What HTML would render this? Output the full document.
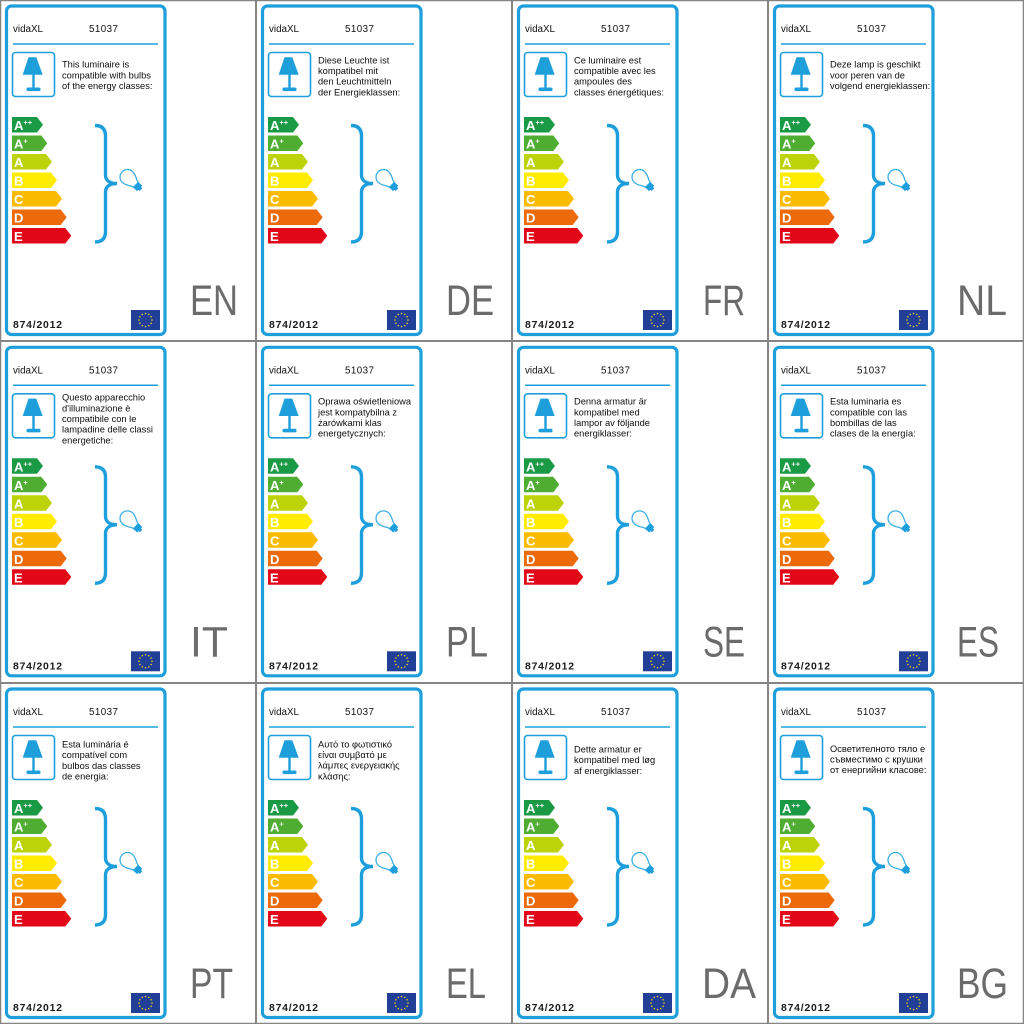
<!DOCTYPE html>
<html><head><meta charset="utf-8"><style>
html,body{margin:0;padding:0;background:#fff;width:1024px;height:1024px;overflow:hidden}
svg{display:block}
.h{font-family:"Liberation Sans",sans-serif;font-size:9.8px;fill:#111}
.d{font-family:"Liberation Sans",sans-serif;font-size:9.3px;fill:#0d0d0d}
.b{font-family:"Liberation Sans",sans-serif;font-size:13px;font-weight:bold;fill:#fff}
.s{font-size:7.5px}
.r{font-family:"Liberation Sans",sans-serif;font-size:10.4px;font-weight:bold;fill:#1a1a1a}
.lc{font-family:"Liberation Sans",sans-serif;font-size:43px;fill:#6b6b6b}
</style></head><body>
<svg width="1024" height="1024" viewBox="0 0 1024 1024" xmlns="http://www.w3.org/2000/svg">
<defs>
<g id="shp">
  <rect x="6.5" y="6" width="158.5" height="328.5" rx="5" fill="#fff" stroke="#1e9fdc" stroke-width="3.2"/>
  <line x1="13" y1="44" x2="158" y2="44" stroke="#1e9fdc" stroke-width="1.5"/>
  <rect x="12.5" y="52.5" width="42" height="44" rx="3" fill="#fff" stroke="#1e9fdc" stroke-width="1.6"/>
  <polygon points="28.5,57.3 36.3,57.3 42.7,74.7 22.7,74.7" fill="#1e9fdc"/>
  <rect x="32.3" y="74" width="2.4" height="14" fill="#1e9fdc"/>
  <rect x="26.5" y="87.5" width="14" height="3.6" rx="1.5" fill="#1e9fdc"/>
  <path d="M12,117 H37 L43,124.75 L37,132.5 H12 Z" fill="#1b9a45"/>
  <path d="M12,135.5 H41.3 L47.3,143.25 L41.3,151 H12 Z" fill="#4fae32"/>
  <path d="M12,154 H46 L52,161.75 L46,169.5 H12 Z" fill="#bcd30a"/>
  <path d="M12,172.5 H51 L57,180.25 L51,188 H12 Z" fill="#ffec00"/>
  <path d="M12,191 H56 L62,198.75 L56,206.5 H12 Z" fill="#fbbb00"/>
  <path d="M12,209.5 H60.7 L66.7,217.25 L60.7,225 H12 Z" fill="#ec6a0a"/>
  <path d="M12,228 H65.3 L71.3,235.75 L65.3,243.5 H12 Z" fill="#e3071a"/>
  <path d="M95,125.5 C102,125.5 105.5,129 105.5,136 L105.5,175 C105.5,180.5 110,183.5 117,183.5 C110,183.5 105.5,186.5 105.5,192 L105.5,231.5 C105.5,238.5 102,242 95,242" fill="none" stroke="#1e9fdc" stroke-width="3.4"/>
  <g transform="translate(127.5,177) rotate(-47) scale(1.15)">
    <path d="M-3,10 C-3,7 -6.5,5 -6.5,0 A6.5,6.5 0 1 1 6.5,0 C6.5,5 3,7 3,10 Z" fill="#fff" stroke="#3aaee2" stroke-width="1.1"/>
    <rect x="-3.3" y="10" width="6.6" height="4.5" fill="#1e9fdc"/>
    <rect x="-1.6" y="14.3" width="3.2" height="1.8" fill="#1e9fdc"/>
  </g>
  <rect x="131" y="310" width="29" height="20" fill="#223f98"/>
  <g fill="#ffdd00">
    <circle cx="145.5" cy="313.5" r="0.75"/><circle cx="148.75" cy="314.37" r="0.75"/><circle cx="151.13" cy="316.75" r="0.75"/>
    <circle cx="152" cy="320" r="0.75"/><circle cx="151.13" cy="323.25" r="0.75"/><circle cx="148.75" cy="325.63" r="0.75"/>
    <circle cx="145.5" cy="326.5" r="0.75"/><circle cx="142.25" cy="325.63" r="0.75"/><circle cx="139.87" cy="323.25" r="0.75"/>
    <circle cx="139" cy="320" r="0.75"/><circle cx="139.87" cy="316.75" r="0.75"/><circle cx="142.25" cy="314.37" r="0.75"/>
  </g>
</g>
</defs>

<!-- grid -->
<rect x="0.5" y="0.5" width="1023" height="1023" fill="none" stroke="#858585" stroke-width="1.5"/>
<g stroke="#858585" stroke-width="2">
  <line x1="256" y1="0" x2="256" y2="1024"/>
  <line x1="512" y1="0" x2="512" y2="1024"/>
  <line x1="768" y1="0" x2="768" y2="1024"/>
  <line x1="0" y1="341" x2="1024" y2="341"/>
  <line x1="0" y1="683" x2="1024" y2="683"/>
</g>

<!-- EN -->
<g transform="translate(0,0)">
<use href="#shp"/>
<text class="h" x="13" y="32">vidaXL</text><text class="h" x="89" y="32" textLength="29">51037</text>
<text class="d"><tspan x="62" y="67.7">This luminaire is</tspan><tspan x="62" y="78.4">compatible with bulbs</tspan><tspan x="62" y="89.1">of the energy classes:</tspan></text>
<text class="b" x="14" y="130">A<tspan class="s" dy="-5">++</tspan></text>
<text class="b" x="14" y="148.5">A<tspan class="s" dy="-5">+</tspan></text>
<text class="b" x="14" y="167">A</text><text class="b" x="14" y="185.5">B</text><text class="b" x="14" y="204">C</text><text class="b" x="14" y="222.5">D</text><text class="b" x="14" y="241">E</text>
<text class="r" x="13" y="328" textLength="49">874/2012</text>
<text class="lc" x="190" y="315" textLength="48" lengthAdjust="spacingAndGlyphs">EN</text>
</g>

<!-- DE -->
<g transform="translate(256,0)">
<use href="#shp"/>
<text class="h" x="13" y="32">vidaXL</text><text class="h" x="89" y="32" textLength="29">51037</text>
<text class="d"><tspan x="62" y="63.3">Diese Leuchte ist</tspan><tspan x="62" y="74">kompatibel mit</tspan><tspan x="62" y="84.7">den Leuchtmitteln</tspan><tspan x="62" y="95.4">der Energieklassen:</tspan></text>
<text class="b" x="14" y="130">A<tspan class="s" dy="-5">++</tspan></text>
<text class="b" x="14" y="148.5">A<tspan class="s" dy="-5">+</tspan></text>
<text class="b" x="14" y="167">A</text><text class="b" x="14" y="185.5">B</text><text class="b" x="14" y="204">C</text><text class="b" x="14" y="222.5">D</text><text class="b" x="14" y="241">E</text>
<text class="r" x="13" y="328" textLength="49">874/2012</text>
<text class="lc" x="190" y="315" textLength="48" lengthAdjust="spacingAndGlyphs">DE</text>
</g>

<!-- FR -->
<g transform="translate(512,0)">
<use href="#shp"/>
<text class="h" x="13" y="32">vidaXL</text><text class="h" x="89" y="32" textLength="29">51037</text>
<text class="d"><tspan x="62" y="63.3">Ce luminaire est</tspan><tspan x="62" y="74">compatible avec les</tspan><tspan x="62" y="84.7">ampoules des</tspan><tspan x="62" y="95.4">classes énergétiques:</tspan></text>
<text class="b" x="14" y="130">A<tspan class="s" dy="-5">++</tspan></text>
<text class="b" x="14" y="148.5">A<tspan class="s" dy="-5">+</tspan></text>
<text class="b" x="14" y="167">A</text><text class="b" x="14" y="185.5">B</text><text class="b" x="14" y="204">C</text><text class="b" x="14" y="222.5">D</text><text class="b" x="14" y="241">E</text>
<text class="r" x="13" y="328" textLength="49">874/2012</text>
<text class="lc" x="191" y="315" textLength="42" lengthAdjust="spacingAndGlyphs">FR</text>
</g>

<!-- NL -->
<g transform="translate(768,0)">
<use href="#shp"/>
<text class="h" x="13" y="32">vidaXL</text><text class="h" x="89" y="32" textLength="29">51037</text>
<text class="d"><tspan x="62" y="67.7">Deze lamp is geschikt</tspan><tspan x="62" y="78.4">voor peren van de</tspan><tspan x="62" y="89.1">volgend energieklassen:</tspan></text>
<text class="b" x="14" y="130">A<tspan class="s" dy="-5">++</tspan></text>
<text class="b" x="14" y="148.5">A<tspan class="s" dy="-5">+</tspan></text>
<text class="b" x="14" y="167">A</text><text class="b" x="14" y="185.5">B</text><text class="b" x="14" y="204">C</text><text class="b" x="14" y="222.5">D</text><text class="b" x="14" y="241">E</text>
<text class="r" x="13" y="328" textLength="49">874/2012</text>
<text class="lc" x="189" y="315" textLength="50" lengthAdjust="spacingAndGlyphs">NL</text>
</g>

<!-- IT -->
<g transform="translate(0,341.3)">
<use href="#shp"/>
<text class="h" x="13" y="32">vidaXL</text><text class="h" x="89" y="32" textLength="29">51037</text>
<text class="d"><tspan x="62" y="59.3">Questo apparecchio</tspan><tspan x="62" y="70">d'illuminazione è</tspan><tspan x="62" y="80.7">compatibile con le</tspan><tspan x="62" y="91.4">lampadine delle classi</tspan><tspan x="62" y="102.1">energetiche:</tspan></text>
<text class="b" x="14" y="130">A<tspan class="s" dy="-5">++</tspan></text>
<text class="b" x="14" y="148.5">A<tspan class="s" dy="-5">+</tspan></text>
<text class="b" x="14" y="167">A</text><text class="b" x="14" y="185.5">B</text><text class="b" x="14" y="204">C</text><text class="b" x="14" y="222.5">D</text><text class="b" x="14" y="241">E</text>
<text class="r" x="13" y="328" textLength="49">874/2012</text>
<text class="lc" x="190" y="315" textLength="38" lengthAdjust="spacingAndGlyphs">IT</text>
</g>

<!-- PL -->
<g transform="translate(256,341.3)">
<use href="#shp"/>
<text class="h" x="13" y="32">vidaXL</text><text class="h" x="89" y="32" textLength="29">51037</text>
<text class="d"><tspan x="62" y="63.3">Oprawa oświetleniowa</tspan><tspan x="62" y="74">jest kompatybilna z</tspan><tspan x="62" y="84.7">żarówkami klas</tspan><tspan x="62" y="95.4">energetycznych:</tspan></text>
<text class="b" x="14" y="130">A<tspan class="s" dy="-5">++</tspan></text>
<text class="b" x="14" y="148.5">A<tspan class="s" dy="-5">+</tspan></text>
<text class="b" x="14" y="167">A</text><text class="b" x="14" y="185.5">B</text><text class="b" x="14" y="204">C</text><text class="b" x="14" y="222.5">D</text><text class="b" x="14" y="241">E</text>
<text class="r" x="13" y="328" textLength="49">874/2012</text>
<text class="lc" x="190" y="315" textLength="42" lengthAdjust="spacingAndGlyphs">PL</text>
</g>

<!-- SE -->
<g transform="translate(512,341.3)">
<use href="#shp"/>
<text class="h" x="13" y="32">vidaXL</text><text class="h" x="89" y="32" textLength="29">51037</text>
<text class="d"><tspan x="62" y="63.3">Denna armatur är</tspan><tspan x="62" y="74">kompatibel med</tspan><tspan x="62" y="84.7">lampor av följande</tspan><tspan x="62" y="95.4">energiklasser:</tspan></text>
<text class="b" x="14" y="130">A<tspan class="s" dy="-5">++</tspan></text>
<text class="b" x="14" y="148.5">A<tspan class="s" dy="-5">+</tspan></text>
<text class="b" x="14" y="167">A</text><text class="b" x="14" y="185.5">B</text><text class="b" x="14" y="204">C</text><text class="b" x="14" y="222.5">D</text><text class="b" x="14" y="241">E</text>
<text class="r" x="13" y="328" textLength="49">874/2012</text>
<text class="lc" x="191" y="315" textLength="42" lengthAdjust="spacingAndGlyphs">SE</text>
</g>

<!-- ES -->
<g transform="translate(768,341.3)">
<use href="#shp"/>
<text class="h" x="13" y="32">vidaXL</text><text class="h" x="89" y="32" textLength="29">51037</text>
<text class="d"><tspan x="62" y="63.3">Esta luminaria es</tspan><tspan x="62" y="74">compatible con las</tspan><tspan x="62" y="84.7">bombillas de las</tspan><tspan x="62" y="95.4">clases de la energía:</tspan></text>
<text class="b" x="14" y="130">A<tspan class="s" dy="-5">++</tspan></text>
<text class="b" x="14" y="148.5">A<tspan class="s" dy="-5">+</tspan></text>
<text class="b" x="14" y="167">A</text><text class="b" x="14" y="185.5">B</text><text class="b" x="14" y="204">C</text><text class="b" x="14" y="222.5">D</text><text class="b" x="14" y="241">E</text>
<text class="r" x="13" y="328" textLength="49">874/2012</text>
<text class="lc" x="189" y="315" textLength="42" lengthAdjust="spacingAndGlyphs">ES</text>
</g>

<!-- PT -->
<g transform="translate(0,683)">
<use href="#shp"/>
<text class="h" x="13" y="32">vidaXL</text><text class="h" x="89" y="32" textLength="29">51037</text>
<text class="d"><tspan x="62" y="64.5">Esta luminária é</tspan><tspan x="62" y="75.2">compatível com</tspan><tspan x="62" y="85.9">bulbos das classes</tspan><tspan x="62" y="96.6">de energia:</tspan></text>
<text class="b" x="14" y="130">A<tspan class="s" dy="-5">++</tspan></text>
<text class="b" x="14" y="148.5">A<tspan class="s" dy="-5">+</tspan></text>
<text class="b" x="14" y="167">A</text><text class="b" x="14" y="185.5">B</text><text class="b" x="14" y="204">C</text><text class="b" x="14" y="222.5">D</text><text class="b" x="14" y="241">E</text>
<text class="r" x="13" y="328" textLength="49">874/2012</text>
<text class="lc" x="190" y="315" textLength="43" lengthAdjust="spacingAndGlyphs">PT</text>
</g>

<!-- EL -->
<g transform="translate(256,683)">
<use href="#shp"/>
<text class="h" x="13" y="32">vidaXL</text><text class="h" x="89" y="32" textLength="29">51037</text>
<text class="d"><tspan x="62" y="64.3">Αυτό το φωτιστικό</tspan><tspan x="62" y="75">είναι συμβατό με</tspan><tspan x="62" y="85.7">λάμπες ενεργειακής</tspan><tspan x="62" y="96.4">κλάσης:</tspan></text>
<text class="b" x="14" y="130">A<tspan class="s" dy="-5">++</tspan></text>
<text class="b" x="14" y="148.5">A<tspan class="s" dy="-5">+</tspan></text>
<text class="b" x="14" y="167">A</text><text class="b" x="14" y="185.5">B</text><text class="b" x="14" y="204">C</text><text class="b" x="14" y="222.5">D</text><text class="b" x="14" y="241">E</text>
<text class="r" x="13" y="328" textLength="49">874/2012</text>
<text class="lc" x="190" y="315" textLength="40" lengthAdjust="spacingAndGlyphs">EL</text>
</g>

<!-- DA -->
<g transform="translate(512,683)">
<use href="#shp"/>
<text class="h" x="13" y="32">vidaXL</text><text class="h" x="89" y="32" textLength="29">51037</text>
<text class="d"><tspan x="62" y="69.5">Dette armatur er</tspan><tspan x="62" y="80.2">kompatibel med løg</tspan><tspan x="62" y="90.9">af energiklasser:</tspan></text>
<text class="b" x="14" y="130">A<tspan class="s" dy="-5">++</tspan></text>
<text class="b" x="14" y="148.5">A<tspan class="s" dy="-5">+</tspan></text>
<text class="b" x="14" y="167">A</text><text class="b" x="14" y="185.5">B</text><text class="b" x="14" y="204">C</text><text class="b" x="14" y="222.5">D</text><text class="b" x="14" y="241">E</text>
<text class="r" x="13" y="328" textLength="49">874/2012</text>
<text class="lc" x="190" y="315" textLength="54" lengthAdjust="spacingAndGlyphs">DA</text>
</g>

<!-- BG -->
<g transform="translate(768,683)">
<use href="#shp"/>
<text class="h" x="13" y="32">vidaXL</text><text class="h" x="89" y="32" textLength="29">51037</text>
<text class="d"><tspan x="62" y="68.8">Осветителното тяло е</tspan><tspan x="62" y="79.5">съвместимо с крушки</tspan><tspan x="62" y="90.2">от енергийни класове:</tspan></text>
<text class="b" x="14" y="130">A<tspan class="s" dy="-5">++</tspan></text>
<text class="b" x="14" y="148.5">A<tspan class="s" dy="-5">+</tspan></text>
<text class="b" x="14" y="167">A</text><text class="b" x="14" y="185.5">B</text><text class="b" x="14" y="204">C</text><text class="b" x="14" y="222.5">D</text><text class="b" x="14" y="241">E</text>
<text class="r" x="13" y="328" textLength="49">874/2012</text>
<text class="lc" x="189" y="315" textLength="51" lengthAdjust="spacingAndGlyphs">BG</text>
</g>
</svg>
</body></html>
